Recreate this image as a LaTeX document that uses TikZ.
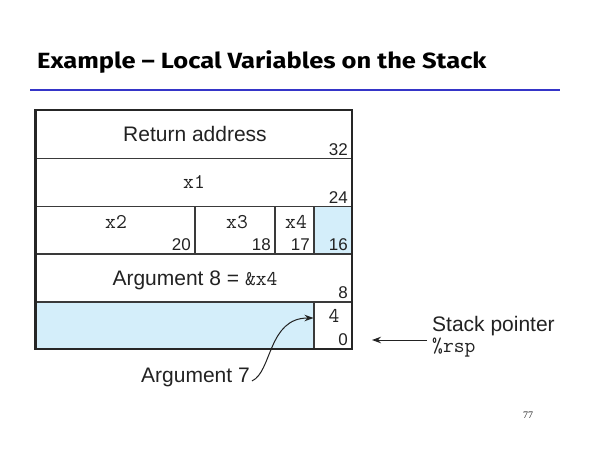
\documentclass[tikz,border=0pt]{standalone}
\usepackage{fontspec}
\setmainfont{Liberation Sans}
\newfontfamily\titlefont{Fira Sans}[FakeStretch=1.16]
\newfontfamily\pagefont{Liberation Serif}
\usetikzlibrary{arrows.meta}
\definecolor{txt}{HTML}{222222}
\definecolor{framec}{HTML}{262626}
\definecolor{linec}{HTML}{3A3A3A}
\definecolor{cellblue}{HTML}{D4EEFA}
\definecolor{titleblue}{HTML}{3535C8}
\begin{document}
\begin{tikzpicture}[x=1pt,y=-1pt,
  inner/.style={draw=linec, line width=1.3pt},
  outer/.style={draw=framec, line width=2.3pt},
  lab/.style={inner sep=0pt, anchor=base, text=txt, font=\fontsize{21}{22}\selectfont},
  num/.style={inner sep=0pt, anchor=base east, text=txt, font=\fontsize{17}{18}\selectfont},
  mono/.style={inner sep=0pt, anchor=base, text=txt, font=\fontsize{21}{22}\ttfamily},
  arr/.style={-{Stealth[length=9pt,width=6.5pt]}, line width=1pt, draw=txt}]
\useasboundingbox (0,0) rectangle (600,450);
% title
\node[anchor=base west, inner sep=0pt, font=\titlefont\bfseries\fontsize{22}{24}\selectfont] (title) at (37,68) {Example – Local Variables on the Stack};
\draw[titleblue, line width=2.5pt] (30,90) coordinate (tl) -- (560,90) coordinate (tr);
% fills
\fill[cellblue] (314,206.5) rectangle (352,254);
\fill[cellblue] (35.5,302) rectangle (314,349);
% inner lines
\draw[inner] (35.5,158.5) -- (352,158.5);
\draw[inner] (35.5,206.5) -- (352,206.5);
\draw[inner] (35.5,254) -- (352,254);
\draw[inner] (35.5,302) -- (352,302);
\draw[inner] (195,206.5) -- (195,254);
\draw[inner] (275,206.5) -- (275,254);
\draw[inner] (314,206.5) -- (314,254);
\draw[inner] (314,302) -- (314,349);
% outer frame
\draw[outer] (35.5,110) rectangle (352,349);
% row 1
\node[lab] (ret) at (195,141) {Return address};
\node[num] (n32) at (348,155) {32};
% row 2
\node[mono] (x1) at (194,188) {x1};
\node[num] (n24) at (348,203) {24};
% row 3
\node[mono] (x2) at (116,228) {x2};
\node[num] (n20) at (191,250) {20};
\node[mono] (x3) at (237,228) {x3};
\node[num] (n18) at (271,250) {18};
\node[mono] (x4) at (296,228) {x4};
\node[num] (n17) at (310,250) {17};
\node[num] (n16) at (348,250) {16};
% row 4
\node[lab] (arg8) at (195,285) {Argument 8 = {\ttfamily\&x4}};
\node[num] (n8) at (348,298) {8};
% row 5
\node[mono] (n4) at (334,322) {4};
\node[num] (n0) at (348,345.5) {0};
% argument 7
\node[lab, anchor=base west] (arg7) at (141,382) {Argument 7};
\coordinate (a7tip) at (313.5,318);
\coordinate (a7s) at ([xshift=2pt,yshift=-4pt]arg7.east);
\draw[arr] (a7s) .. controls (272,372) and (268,318) .. (a7tip);
% stack pointer
\node[lab, anchor=base west] (sp) at (432,331) {Stack pointer};
\node[mono, anchor=base west] (rsp) at (432,352) {\%rsp};
\coordinate (sptip) at (372,340);
\coordinate (spstart) at (427,340);
\draw[arr] (spstart) -- (sptip);
% page number
\node[anchor=base, inner sep=0pt, text=txt, font=\pagefont\fontsize{10}{12}\selectfont] (page) at (528,418) {77};
\end{tikzpicture}
\end{document}
